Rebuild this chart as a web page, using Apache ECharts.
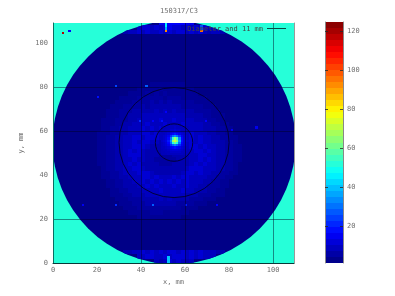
<!DOCTYPE html>
<html><head><meta charset="utf-8">
<style>html,body{margin:0;padding:0;background:#fff}#c{width:395px;height:296px;filter:blur(0.45px)}</style>
<script src="https://cdn.jsdelivr.net/npm/echarts@6/dist/echarts.min.js"></script>
</head><body><div id="c"></div>
<script>
const titleText = '150317/C3';
const keyText = 'Diameter and 11 mm';
const barTicks = [20, 40, 60, 80, 100, 120];
const barMin = 1, barMax = 124.6, barLevels = 40;
const outsideValue = 52, diskValue = 2;
const diskCentre = [55, 54.7], diskRadius = 55.2;
// mottled intensity levels, 2 mm cells, first string is the top row
const levelValues = {'1':3.5,'2':5,'3':7,'4':9,'5':11,'6':14,'7':16,'8':20};
const mainPatch = {x0:20,y0:20,rows:[
'00000000000000000000000000000000000',
'00000000000011111111000000000000000',
'00000000011111211111110000000000000',
'00000001111212121111111000000000000',
'00000111122222212221111110000000000',
'00001111222232323222221111000000000',
'00011122223233333332222211100000000',
'00111222333334343433332222110000000',
'00111223334444444444333322111000000',
'01112223344444544544443332211000000',
'01112233444544454445444433221100000',
'01122334445454544454544433322110000',
'11122334445545455454554443322110000',
'11223344554555444545554544332211000',
'11223344545544333345554544333221000',
'11223344555433333333455454433221100',
'11223345454333323333345545433221100',
'11223345554333222333344554433221100',
'11223344544332222233344545433221100',
'11223345453333222333345454433221000',
'01223344554333333333455544433221000',
'01122344455543333334554544332211000',
'01122334445545444545544443322110000',
'00112233445454545454544433221100000',
'00112233344545444544544332221100000',
'00011223334444544445443332211000000',
'00011122333444444444333222111000000',
'00001112223333434333322211100000000',
'00000111222333333322221110000000000',
'00000011122222222221111000000000000',
'00000001111122211111100000000000000',
'00000000011111111110000000000000000']};
const topBand = {x0:32,y0:104,rows:[
'00000000667777660000000',
'000455454565545454544000',
'34454544545455454543443']};
const bottomBand = {x0:32,y0:0,rows:[
'33445454545545454544433',
'000445544545554545444000',
'0000000434545434']};
// central spot, 1 mm cells, x from 49, first row is y=61
const spotX0 = 49, spotTopY = 61;
const spot = [
[8,8,8,9,9,9,10,9,9,9,8,8,8],
[8,8,9,9,10,10,11,10,10,9,9,8,8],
[8,9,9,10,11,12,13,12,11,10,9,9,8],
[9,9,10,11,14,17,19,17,14,11,10,9,9],
[9,10,11,14,22,30,34,30,22,14,11,10,9],
[9,10,12,17,30,54,66,56,32,17,12,10,9],
[10,11,13,19,34,66,72,64,36,18,12,11,10],
[9,10,12,17,30,52,60,52,30,16,12,10,9],
[9,10,11,14,22,28,32,28,22,14,11,10,9],
[9,9,10,11,14,16,18,16,14,11,10,9,9],
[8,9,9,10,11,12,12,12,11,10,9,9,8],
[8,8,9,9,10,10,10,10,10,9,9,8,8],
[8,8,8,9,9,9,9,9,9,9,8,8,8]];
// isolated bright pixels inside the disk [x, y, value]
const specks = [[28.6,80.4,25],[42.3,80,28],[20.5,75.9,18],[39.5,64.7,22],[45.3,64.7,16],[49.4,64.6,18],[69.9,64.6,16],[92.9,61.4,14],[81.9,60.5,14],[28.2,26.8,22],[45.3,26.4,28],[60,26.4,20],[74.4,26.8,16],[51.4,68.2,16],[13.6,26.8,15]];
// two dots outside the disk, top left [x, y, value]
const outerDots = [[4.4,104.9,118],[7.4,105,17]];
// streaks [x0, x1, y0, y1, value]
const streaks = [[51,52,107,109,46],[51,52,106,107,38],[51,52,105,106,92],[67,68,106,108,26],[67,68,105,106,95],[52,53,0,3,40]];
const ringCentre = [55, 54.7];
const ringDiameters = [17, 50];

function clamp(a){return Math.max(0,Math.min(1,a));}
function jet(v,levels){
  const k=Math.min(levels-1,Math.max(0,Math.floor((v-barMin)/(barMax-barMin)*levels)));
  const f=(k+.5)/levels;
  const r=clamp(Math.min(4*f-1.5,-4*f+4.5)),g=clamp(Math.min(4*f-.5,-4*f+3.5)),b=clamp(Math.min(4*f+.5,-4*f+2.5));
  return 'rgb('+Math.round(r*255)+','+Math.round(g*255)+','+Math.round(b*255)+')';
}
const diskCells=[];
function addPatch(p){
  const n=p.rows.length;
  p.rows.forEach((s,j)=>{
    for(let i=0;i<s.length;i++){
      const v=levelValues[s[i]];
      if(v===undefined)continue;
      const x=p.x0+2*i,y=p.y0+2*(n-1-j);
      diskCells.push([x,x+2,y,y+2,v]);
    }
  });
}
addPatch(mainPatch);addPatch(topBand);addPatch(bottomBand);
spot.forEach((row,j)=>row.forEach((v,i)=>diskCells.push([spotX0+i,spotX0+i+1,spotTopY-j,spotTopY-j+1,v])));
specks.forEach(s=>{const x=Math.floor(s[0]),y=Math.floor(s[1]);diskCells.push([x,x+1,y,y+1,s[2]]);});
streaks.forEach(s=>diskCells.push(s));
const outerCells=[[0,110,0,110,outsideValue]];
const dotCells=outerDots.map(s=>{const x=Math.floor(s[0]),y=Math.floor(s[1]);return [x,x+1,y,y+1,s[2]];});
const barCells=[];
for(let k=0;k<barLevels;k++){
  const a=barMin+(barMax-barMin)*k/barLevels,b=barMin+(barMax-barMin)*(k+1)/barLevels;
  barCells.push([0,1,a,b,(a+b)/2]);
}
function rectShape(api){
  const p0=api.coord([api.value(0),api.value(2)]),p1=api.coord([api.value(1),api.value(3)]);
  const x0=Math.round(p0[0]),x1=Math.round(p1[0]),y0=Math.round(p0[1]),y1=Math.round(p1[1]);
  return {x:x0,y:y1,width:x1-x0,height:y0-y1};
}
function rectItem(levels){return function(params,api){
  return {type:'rect',shape:rectShape(api),style:{fill:jet(api.value(4),levels)}};
};}
function diskGeometry(api){
  const c=api.coord(diskCentre);
  return {cx:c[0],cy:c[1],r:api.size([diskRadius,0])[0]};
}
function diskCellItem(params,api){
  return {type:'rect',shape:rectShape(api),style:{fill:jet(api.value(4),200)},
    clipPath:{type:'circle',shape:diskGeometry(api)}};
}
const txt='#707070', mono='"DejaVu Sans Mono","Liberation Mono",monospace', t='transparent', gridCol='rgba(0,0,30,0.45)';
const labelStyle={color:txt,fontFamily:mono,fontSize:7};
const cellEncode={x:[0,1],y:[2,3]};
const chart=echarts.init(document.getElementById('c'),null,{renderer:'canvas'});
chart.setOption({
  animation:false,backgroundColor:'#fff',
  title:{text:titleText,left:174,top:3,textAlign:'center',textStyle:{color:txt,fontFamily:mono,fontSize:7,fontWeight:'normal'}},
  grid:[{left:53,top:23,width:241,height:240},{left:325,top:22,width:18,height:241}],
  xAxis:[
    {gridIndex:0,type:'value',min:0,max:109.5,interval:20,z:5,position:'bottom',
     name:'x, mm',nameLocation:'middle',nameGap:14,nameTextStyle:labelStyle,
     axisLine:{show:true,lineStyle:{color:'#073a38',width:1}},axisTick:{show:false},
     axisLabel:Object.assign({margin:4,showMaxLabel:false,showMinLabel:true},labelStyle),
     splitLine:{show:true,lineStyle:{width:1,color:[t,t,gridCol,gridCol,t,gridCol,t]}}},
    {gridIndex:1,type:'value',min:0,max:1,show:false}
  ],
  yAxis:[
    {gridIndex:0,type:'value',min:0,max:109,interval:20,z:5,position:'left',
     name:'y, mm',nameLocation:'middle',nameGap:13,nameRotate:90,nameTextStyle:labelStyle,
     axisLine:{show:true,onZero:false,lineStyle:{color:'#0a6e62',width:1}},axisTick:{show:false},
     axisLabel:Object.assign({margin:5,showMaxLabel:false},labelStyle),
     splitLine:{show:true,lineStyle:{width:1,color:[t,gridCol,t,gridCol,gridCol,t,t]}}},
    {gridIndex:0,type:'value',min:0,max:109,position:'right',z:5,
     axisLine:{show:true,onZero:false,lineStyle:{color:'#999',width:1}},axisTick:{show:false},axisLabel:{show:false},splitLine:{show:false}},
    {gridIndex:1,type:'value',min:barMin,max:barMax,position:'right',z:5,
     axisLine:{show:true,onZero:false,lineStyle:{color:'#888',width:1}},
     axisTick:{show:true,inside:true,length:3,customValues:barTicks,lineStyle:{color:'rgba(40,40,40,0.8)'}},
     axisLabel:Object.assign({margin:4,customValues:barTicks},labelStyle),splitLine:{show:false}},
    {gridIndex:1,type:'value',min:barMin,max:barMax,position:'left',z:5,
     axisLine:{show:true,onZero:false,lineStyle:{color:'#888',width:1}},
     axisTick:{show:true,inside:true,length:3,customValues:barTicks,lineStyle:{color:'rgba(40,40,40,0.8)'}},
     axisLabel:{show:false},splitLine:{show:false}}
  ],
  series:[
    {type:'custom',xAxisIndex:0,yAxisIndex:0,z:1,clip:true,silent:true,encode:cellEncode,data:outerCells,renderItem:rectItem(200)},
    {type:'custom',xAxisIndex:0,yAxisIndex:0,z:2,clip:true,silent:true,encode:{x:0,y:1},data:[[diskCentre[0],diskCentre[1],diskValue]],
     renderItem:function(params,api){return {type:'circle',shape:diskGeometry(api),style:{fill:jet(api.value(2),200)}};}},
    {type:'custom',xAxisIndex:0,yAxisIndex:0,z:3,clip:true,silent:true,encode:cellEncode,data:diskCells,renderItem:diskCellItem},
    {type:'custom',xAxisIndex:0,yAxisIndex:0,z:3,clip:true,silent:true,encode:cellEncode,data:dotCells,renderItem:rectItem(200)},
    {type:'custom',xAxisIndex:0,yAxisIndex:0,z:4,clip:true,silent:true,encode:{x:0,y:1},
     data:ringDiameters.map(d=>[ringCentre[0],ringCentre[1],d]),
     renderItem:function(params,api){
       const c=api.coord([api.value(0),api.value(1)]);
       const r=api.size([api.value(2)/2,0])[0];
       return {type:'circle',shape:{cx:c[0],cy:c[1],r:r},style:{fill:null,stroke:'#00003a',lineWidth:1}};
     }},
    {type:'custom',xAxisIndex:1,yAxisIndex:2,z:2,silent:true,encode:cellEncode,data:barCells,renderItem:rectItem(barLevels)}
  ],
  graphic:[
    {type:'text',z:10,silent:true,style:{text:keyText,x:263,y:28.7,align:'right',verticalAlign:'middle',fill:'#444',font:'7px '+mono}},
    {type:'line',z:10,silent:true,shape:{x1:267,y1:28.5,x2:286,y2:28.5},style:{stroke:'#0a4a48',lineWidth:1}}
  ]
});
</script></body></html>
